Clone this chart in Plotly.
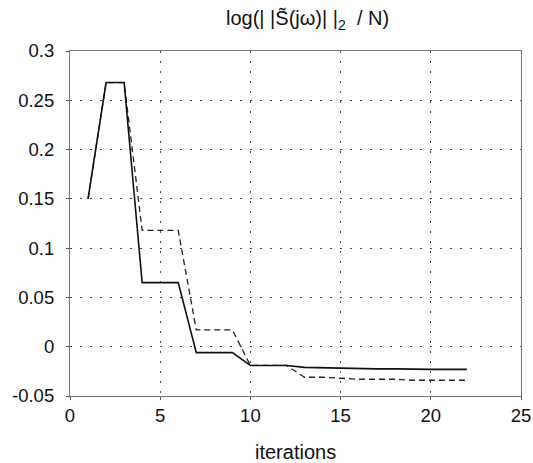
import plotly.graph_objects as go

iterations = list(range(1, 23))
solid_vals = [0.150, 0.268, 0.268, 0.065, 0.065, 0.065, -0.006, -0.006, -0.006, -0.019,
              -0.019, -0.019, -0.021, -0.0215, -0.022, -0.022, -0.0225, -0.0225, -0.023, -0.023,
              -0.023, -0.023]
dashed_vals = [0.150, 0.268, 0.268, 0.118, 0.118, 0.118, 0.017, 0.017, 0.017, -0.019,
               -0.019, -0.019, -0.031, -0.031, -0.032, -0.033, -0.033, -0.033, -0.034, -0.034,
               -0.034, -0.034]
x_ticks = [0, 5, 10, 15, 20, 25]
y_ticks = [-0.05, 0, 0.05, 0.1, 0.15, 0.2, 0.25, 0.3]
y_tick_text = ["-0.05", "0", "0.05", "0.1", "0.15", "0.2", "0.25", "0.3"]

fig = go.Figure()
fig.add_trace(go.Scatter(x=iterations, y=dashed_vals, mode="lines",
                         line=dict(color="#222", width=1.3, dash="6px,4px"), showlegend=False))
fig.add_trace(go.Scatter(x=iterations, y=solid_vals, mode="lines",
                         line=dict(color="#111", width=1.6), showlegend=False))

family = "Liberation Sans, Arial, sans-serif"
tick_font = dict(family=family, size=18.5, color="#111")
label_font = dict(family=family, size=20, color="#111")
axis_common = dict(ticks="outside", ticklen=3, tickcolor="#555",
                   showgrid=True, gridcolor="#444", gridwidth=1.2, griddash="2px,8px",
                   showline=True, linecolor="#777", linewidth=1.2, mirror=True, zeroline=False,
                   tickfont=tick_font, automargin=False)
fig.update_layout(
    width=533, height=463,
    margin=dict(l=70, r=12, t=51, b=67),
    paper_bgcolor="white", plot_bgcolor="white",
    font=tick_font,
    xaxis=dict(range=[0, 25], tickvals=x_ticks, **axis_common),
    yaxis=dict(range=[-0.05, 0.3], tickvals=y_ticks, ticktext=y_tick_text,
               ticklabelstandoff=8, **axis_common),
    annotations=[
        dict(text="log(| |S\u0303(j\u03c9)| |<sub>2</sub>  / N)", x=0.5266, y=1.0,
             xref="paper", yref="paper", yshift=31, xanchor="center", yanchor="middle",
             showarrow=False, font=label_font),
        dict(text="iterations", x=0.5, y=0, xref="paper", yref="paper",
             yshift=-56, xanchor="center", yanchor="middle", showarrow=False, font=label_font),
    ],
)
fig.write_html("out.html", config={"displayModeBar": False},
               post_script="document.body.style.margin='0';document.body.style.overflow='hidden';")
